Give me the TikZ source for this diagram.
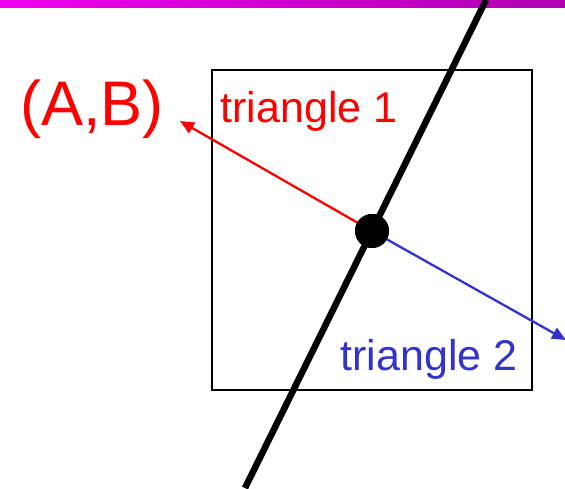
\documentclass[tikz,border=0pt]{standalone}
\usepackage{fontspec}
\setmainfont{Liberation Sans}
\usetikzlibrary{arrows.meta}
\definecolor{myred}{RGB}{255,0,0}
\definecolor{myblue}{RGB}{51,51,204}
\definecolor{barleft}{RGB}{240,0,240}
\definecolor{barright}{RGB}{176,0,176}
\begin{document}
\begin{tikzpicture}[x=1pt,y=-1pt,
  lbl/.style={inner sep=0pt,anchor=base,font=\fontsize{43}{43}\selectfont},
  arr/.style={line width=2.3pt,-{Triangle[length=14pt,width=12pt]}},
  dotnode/.style={circle,fill=black,inner sep=0pt,minimum size=34pt}]
\useasboundingbox (0,0) rectangle (565,488);
\shade[left color=barleft,right color=barright] (0,0) rectangle (565,7);
\node[draw=black,line width=2.3pt,minimum width=320pt,minimum height=320pt,inner sep=0pt] (box) at (372,230) {};
\coordinate (top) at (486,0);
\coordinate (bot) at (245,488);
\draw[line width=6.5pt] (top) -- (bot);
\node[dotnode] (d) at (372,231) {};
\coordinate (rt) at (180,121);
\coordinate (bt) at (566,340);
\draw[arr,myred] (d.center) -- (rt);
\draw[arr,myblue] (d.center) -- (bt);
\node[dotnode] at (372,231) {};
\node[lbl,text=myred,font=\fontsize{63}{63}\selectfont] (ab) at (92,125) {(A,B)};
\node[lbl,text=myred] (t1) at (309,122) {triangle 1};
\node[lbl,text=myblue] (t2) at (429,370) {triangle 2};
\end{tikzpicture}
\end{document}
